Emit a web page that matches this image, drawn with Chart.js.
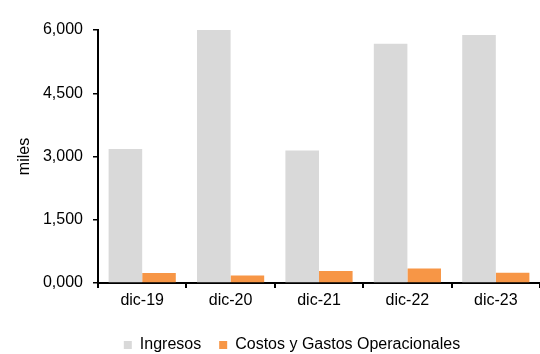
<!DOCTYPE html>
<html>
<head>
<meta charset="utf-8">
<script src="https://cdn.jsdelivr.net/npm/chart.js@4/dist/chart.umd.min.js"></script>
<style>
html,body{margin:0;padding:0;background:#fff;}
#wrap{width:540px;height:354px;position:relative;}
</style>
</head>
<body>
<div id="wrap"><canvas id="c" width="540" height="354"></canvas></div>
<script>
const categories = ["dic-19", "dic-20", "dic-21", "dic-22", "dic-23"];
const ingresos = [3180, 6000, 3140, 5675, 5880];
const costos = [235, 180, 284, 346, 244];
const yTickValues = [0, 1500, 3000, 4500, 6000];
const yTickLabels = ["0,000", "1,500", "3,000", "4,500", "6,000"];
const seriesNames = ["Ingresos", "Costos y Gastos Operacionales"];

const FONT = "'Liberation Sans', Arial, sans-serif";

const legendShift = {
  id: 'legendShift',
  afterLayout(chart) {
    const lg = chart.legend;
    if (!lg) return;
    lg.left += 22; lg.right += 22;
    lg.top += 9; lg.bottom += 9;
  }
};

new Chart(document.getElementById('c'), {
  type: 'bar',
  data: {
    labels: categories,
    datasets: [
      { label: seriesNames[0], data: ingresos, backgroundColor: '#D9D9D9', borderWidth: 0 },
      { label: seriesNames[1], data: costos, backgroundColor: '#F79646', borderWidth: 0 }
    ]
  },
  plugins: [legendShift],
  options: {
    responsive: false,
    animation: false,
    devicePixelRatio: 1,
    categoryPercentage: 0.76,
    barPercentage: 1.0,
    layout: { padding: { top: 30, right: 0, left: 0, bottom: 0 } },
    plugins: {
      tooltip: { enabled: false },
      legend: {
        position: 'bottom',
        labels: {
          color: '#000',
          font: { family: FONT, size: 16 },
          boxWidth: 8,
          boxHeight: 8,
          padding: 18
        }
      }
    },
    scales: {
      x: {
        offset: true,
        border: { color: '#000', width: 2 },
        grid: { display: true, drawOnChartArea: false, offset: true, color: '#000', lineWidth: 2, tickLength: 5 },
        ticks: { color: '#000', font: { family: FONT, size: 16 }, padding: 3, maxRotation: 0 },
        afterFit: (s) => { s.height = 27; }
      },
      y: {
        min: 0,
        max: 6000,
        border: { color: '#000', width: 2 },
        grid: { display: true, drawOnChartArea: false, color: '#000', lineWidth: 1.5, tickLength: 5 },
        afterBuildTicks: (s) => { s.ticks = yTickValues.map(v => ({ value: v })); },
        ticks: {
          color: '#000',
          font: { family: FONT, size: 16 },
          padding: 10,
          callback: (v) => { const i = yTickValues.indexOf(v); return i >= 0 ? yTickLabels[i] : ''; }
        },
        title: { display: true, text: 'miles', color: '#000', font: { family: FONT, size: 16 }, padding: { top: 15, bottom: 0 } },
        afterFit: (s) => { s.width = 98; }
      }
    }
  }
});
</script>
</body>
</html>
